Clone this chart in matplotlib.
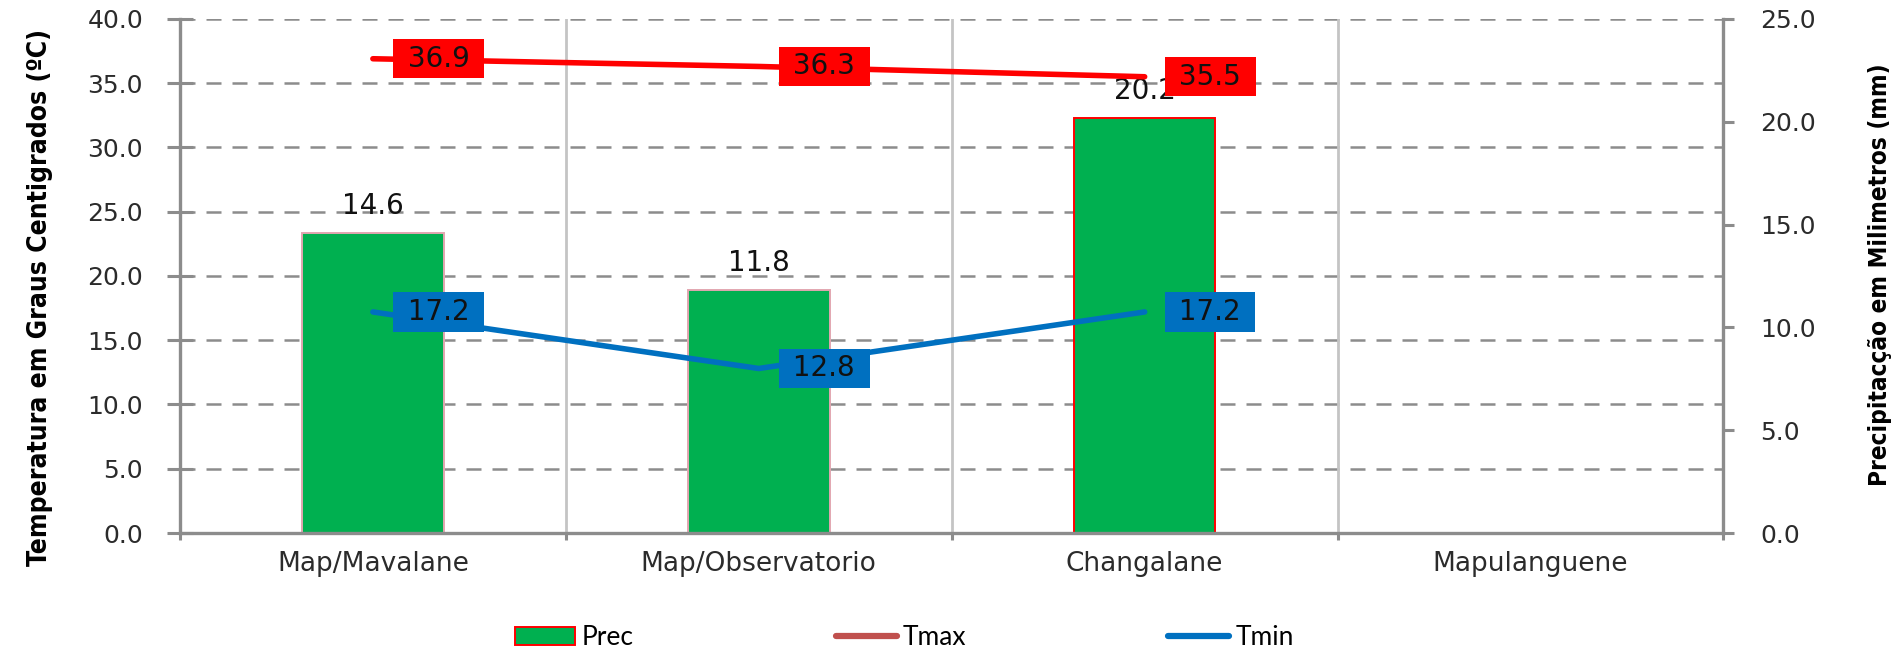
import numpy as np
import matplotlib.pyplot as plt
from matplotlib.patches import Rectangle
from matplotlib.lines import Line2D

# estacoes e valores medios
estacoes = ['Map/Mavalane', 'Map/Observatorio', 'Changalane', 'Mapulanguene']
prec = [14.6, 11.8, 20.2, np.nan]
tmax = [36.9, 36.3, 35.5, np.nan]
tmin = [17.2, 12.8, 17.2, np.nan]

t_ticks = np.arange(0, 45, 5)
p_ticks = np.arange(0, 30, 5)

verde = '#00B050'
vermelho = '#FF0000'
azul = '#0070C0'
cinza = '#8C8C8C'

x = np.arange(len(estacoes))

fig = plt.figure(figsize=(19, 6.52), dpi=100)
ax = fig.add_axes([0.0947, 0.1825, 0.8124, 0.7885])
ax2 = ax.twinx()

# temperaturas por cima das barras
ax.set_zorder(ax2.get_zorder() + 1)
ax.patch.set_visible(False)

ax.set_xlim(-0.5, len(estacoes) - 0.5)
ax.set_ylim(t_ticks[0], t_ticks[-1])
ax2.set_ylim(p_ticks[0], p_ticks[-1])

# grelha no eixo de baixo para ficar atras das barras
escala = p_ticks[-1] / t_ticks[-1]
for v in t_ticks[1:]:
    ax2.axhline(v * escala, color=cinza, lw=1.8, ls=(0, (6, 4.4)), zorder=1)
for b in x[:-1] + 0.5:
    ax2.axvline(b, color='#C4C4C4', lw=2, zorder=1)

# barras de precipitacao
cores_borda = ['#E2A6B0', '#E2A6B0', vermelho, vermelho]
for xi, p, ec in zip(x, prec, cores_borda):
    if np.isnan(p):
        continue
    ax2.bar(xi, p, width=0.367, color=verde, edgecolor=ec, linewidth=1.4, zorder=3)
    ax2.annotate(f'{p:.1f}', (xi, p), xytext=(0, 19.5), textcoords='offset points',
                 ha='center', va='center', fontsize=20, color='#111111', zorder=4)

# linhas de temperatura
ax.plot(x, tmax, color=vermelho, lw=4, solid_capstyle='round', zorder=3)
ax.plot(x, tmin, color=azul, lw=4, solid_capstyle='round', zorder=3)
for serie, cor in [(tmax, vermelho), (tmin, azul)]:
    for xi, v in zip(x, serie):
        if np.isnan(v):
            continue
        ax.annotate(f' {v:.1f} ', (xi, v), xytext=(18.5, 0), textcoords='offset points',
                    ha='left', va='center', fontsize=20, color='#111111', zorder=5,
                    bbox=dict(boxstyle='square,pad=0.2', fc=cor, ec='none'))

# eixos
ax.set_yticks(t_ticks)
ax.set_yticklabels([f'{v:.1f}' for v in t_ticks])
ax2.set_yticks(p_ticks)
ax2.set_yticklabels([f'{v:.1f}' for v in p_ticks])
ax.set_xticks(np.append(x - 0.5, x[-1] + 0.5))
ax.set_xticklabels([])
ax.set_xticks(x, minor=True)
ax.set_xticklabels(estacoes, minor=True)

for s in ['top', 'right']:
    ax.spines[s].set_visible(False)
for s in ['top', 'left', 'bottom']:
    ax2.spines[s].set_visible(False)
for s in [ax.spines['left'], ax.spines['bottom'], ax2.spines['right']]:
    s.set_color(cinza)
    s.set_linewidth(2.4)

ax.tick_params(axis='y', direction='inout', length=19, width=2.2, color=cinza,
               labelsize=18, labelcolor='#2b2b2b', pad=17)
ax2.tick_params(axis='y', direction='out', length=8, width=2.2, color=cinza,
                labelsize=18, labelcolor='#2b2b2b', pad=18.5)
ax.tick_params(axis='x', which='major', direction='out', length=5, width=2.2, color=cinza)
ax.tick_params(axis='x', which='minor', length=0, labelsize=19, labelcolor='#2b2b2b', pad=13)

titulo = dict(rotation=90, ha='center', va='center', fontweight='bold',
              family='DejaVu Sans', fontstretch='condensed', color='black')
fig.text(0.021, 0.544, 'Temperatura em Graus Centigrados (ºC)', fontsize=19, **titulo)
fig.text(0.9895, 0.578, 'Precipitacção em Milimetros (mm)', fontsize=17.5, **titulo)

# legenda
handles = [Rectangle((0, 0), 1, 1, fc=verde, ec=vermelho, lw=1.4),
           Line2D([], [], color='#C0504D', lw=4.5, solid_capstyle='round'),
           Line2D([], [], color=azul, lw=4.5, solid_capstyle='round')]
fig.legend(handles, ['Prec', 'Tmax', 'Tmin'], loc='center', bbox_to_anchor=(0.476, 0.0215),
           ncol=3, frameon=False, prop={'family': 'Lato', 'size': 19},
           handlelength=2.3, handleheight=0.7, handletextpad=0.25, columnspacing=7.65)

fig.savefig('out.png', dpi=100)
